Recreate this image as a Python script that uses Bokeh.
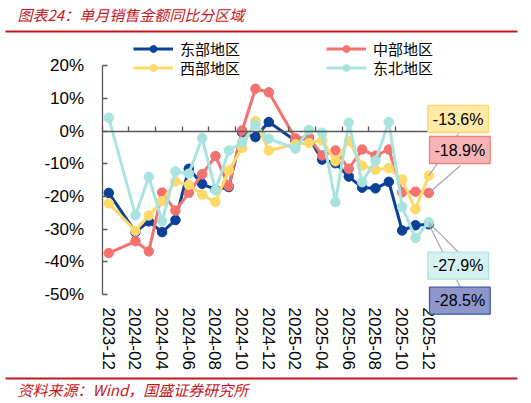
import math
from bokeh.plotting import figure
from bokeh.models import (Range1d, FixedTicker, PrintfTickFormatter, Legend, LegendItem,
                          Label, BoxAnnotation, Arrow, ColumnDataSource, LinearAxis)
from bokeh.embed import file_html
from bokeh.resources import INLINE

# ---------------- data ----------------
months = ["2023-12", "2024-01", "2024-02", "2024-03", "2024-04", "2024-05", "2024-06",
          "2024-07", "2024-08", "2024-09", "2024-10", "2024-11", "2024-12", "2025-01",
          "2025-02", "2025-03", "2025-04", "2025-05", "2025-06", "2025-07", "2025-08",
          "2025-09", "2025-10", "2025-11", "2025-12"]
east = [-18.9, None, -30.9, -27.6, -30.9, -27.2, -11.5, -16.1, -17.9, -17.1, -0.3, -1.8, 2.8,
        None, -2.9, -2.0, -8.7, -9.8, -13.9, -17.3, -17.5, -15.5, -30.4, -28.8, -28.5]
central = [-37.3, None, -33.7, -36.8, -18.8, -24.3, -18.9, -13.2, -7.6, -16.8, 0.2, 13.0, 11.9,
           None, -2.2, -1.8, -7.4, -5.9, -11.5, -5.6, -7.5, -5.6, -18.7, -18.5, -18.9]
west = [-22.1, None, -30.5, -25.8, -21.4, -15.4, -16.4, -19.4, -21.7, -12.0, -5.1, 3.1, -5.9,
        None, -4.0, -3.6, -2.8, -9.2, -3.0, -10.6, -11.8, -11.3, -14.8, -23.9, -13.6]
northeast = [4.1, None, -25.7, -14.0, -27.5, -12.3, -13.0, -2.1, -18.1, -5.9, -3.4, 2.0, -2.3,
             None, -5.3, 0.4, -0.5, -21.7, 2.6, -15.6, -9.0, 2.8, -23.2, -32.7, -27.9]
series_names = ["东部地区", "中部地区", "西部地区", "东北地区"]
y_ticks = [-50, -40, -30, -20, -10, 0, 10, 20]

title_text = "图表24：单月销售金额同比分区域"
source_text = "资料来源：Wind，国盛证券研究所"

# ---------------- styles ----------------
colors = ["#0A4098", "#F4726E", "#FDD96A", "#A8E3E0"]
box_fill = ["#8D97CA", "#F8B4B4", "#FEE9A6", "#D5F2F0"]
box_line = ["#3A5BA5", "#F0807C", "#FDD96A", "#A9E3E0"]
RED = "#C4161C"
AXIS = "#595959"
LATIN = "Liberation Sans"
CJK = "Noto Sans CJK SC"

W, H = 531, 403
# frame covers the whole canvas; axes are pinned inside it with fixed_location
p = figure(width=W, height=H, output_backend="svg", toolbar_location=None,
           x_range=Range1d(-8.12, 31.70), y_range=Range1d(-83.37, 40.02),
           min_border_left=0, min_border_right=0, min_border_top=0, min_border_bottom=0)
p.outline_line_color = None
p.grid.grid_line_color = None
p.background_fill_color = "white"

x_lo, x_hi = -0.5, len(months) - 0.5

# y axis
p.yaxis.fixed_location = x_lo
p.yaxis.ticker = FixedTicker(ticks=y_ticks)
p.yaxis.formatter = PrintfTickFormatter(format="%d%%")
p.yaxis.bounds = (y_ticks[0], y_ticks[-1])
p.yaxis.axis_line_color = AXIS
p.yaxis.axis_line_width = 1.3
p.yaxis.major_tick_line_color = AXIS
p.yaxis.major_tick_line_width = 1.3
p.yaxis.major_tick_in = 5
p.yaxis.major_tick_out = 0
p.yaxis.minor_tick_line_color = None
p.yaxis.major_label_text_font = LATIN
p.yaxis.major_label_text_font_size = "17px"
p.yaxis.major_label_text_color = "black"
p.yaxis.major_label_standoff = 18

# x axis (labels only) pinned at the bottom of the value range
p.xaxis.fixed_location = y_ticks[0]
p.xaxis.ticker = FixedTicker(ticks=list(range(0, len(months), 2)))
p.xaxis.major_label_overrides = {i: months[i] for i in range(0, len(months), 2)}
p.xaxis.major_label_orientation = -math.pi / 2
p.xaxis.axis_line_color = None
p.xaxis.major_tick_line_color = None
p.xaxis.minor_tick_line_color = None
p.xaxis.major_tick_in = 0
p.xaxis.major_tick_out = 0
p.xaxis.major_label_text_font = LATIN
p.xaxis.major_label_text_font_size = "17px"
p.xaxis.major_label_text_color = "black"
p.xaxis.major_label_standoff = 13

# zero line with upward ticks between category pairs
zero_axis = LinearAxis(fixed_location=0, bounds=(x_lo, x_hi),
                       ticker=FixedTicker(ticks=[i - 0.5 for i in range(0, len(months) - 1, 2)]),
                       axis_line_color=AXIS, axis_line_width=1.3,
                       major_tick_line_color=AXIS, major_tick_line_width=1.3,
                       major_tick_in=5, major_tick_out=0, minor_tick_line_color=None,
                       major_label_text_alpha=0, major_label_text_font_size="1px")
p.add_layout(zero_axis, "below")

# series
renderers = []
for vals, col in zip([east, central, west, northeast], colors):
    xs = [i for i, v in enumerate(vals) if v is not None]
    ys = [v for v in vals if v is not None]
    src = ColumnDataSource(dict(x=xs, y=ys))
    lr = p.line("x", "y", source=src, line_color=col, line_width=3)
    sr = p.scatter("x", "y", source=src, size=9.5, fill_color=col, line_color=col)
    renderers.append((lr, sr))

# legends (2 x 2), positions in screen px from bottom-left
leg_pos = [(133, 344), (326, 344), (133, 325), (326, 325)]
for (lr, sr), name, pos in zip(renderers, series_names, leg_pos):
    leg = Legend(items=[LegendItem(label=name, renderers=[lr, sr])], location=pos,
                 orientation="horizontal", glyph_width=40, glyph_height=17, label_height=17,
                 label_standoff=7, padding=0, margin=0, spacing=0,
                 border_line_color=None, background_fill_alpha=0,
                 label_text_font=CJK, label_text_font_size="15px", label_text_color="black")
    p.add_layout(leg)

# leader lines + value boxes for the last month
last = len(months) - 1
last_vals = [east[last], central[last], west[last], northeast[last]]
leader_end = [(460, 116), (460, 238), (458, 270), (458, 151)]
box_tl = [(429, 116.3), (429, 267), (427.3, 298), (427.3, 151.3)]
for v, (ex, ey) in zip(last_vals, leader_end):
    p.add_layout(Arrow(end=None, x_start=last, y_start=v, x_end=ex, y_end=ey,
                       start_units="data", end_units="screen",
                       line_color="#A6A6A6", line_width=1.2))
for idx in [2, 1, 3, 0]:
    bx, by = box_tl[idx]
    p.add_layout(Label(x=bx, y=by, x_units="screen", y_units="screen",
                       text=f"{last_vals[idx]:.1f}%", anchor="top_left", padding=5,
                       text_font=LATIN, text_font_size="16px", text_color="black",
                       background_fill_color=box_fill[idx], border_line_color=box_line[idx],
                       border_line_width=1.3))

# title, source and red rules
p.add_layout(Label(x=17, y=389, x_units="screen", y_units="screen", text=title_text,
                   text_font=CJK, text_font_size="15px", text_font_style="italic",
                   text_color=RED, text_baseline="middle"))
p.add_layout(Label(x=17, y=14, x_units="screen", y_units="screen", text=source_text,
                   text_font=CJK, text_font_size="15px", text_font_style="italic",
                   text_color=RED, text_baseline="middle"))
for yc in [372, 25]:
    p.add_layout(BoxAnnotation(left=5, right=517, bottom=yc - 1, top=yc + 1,
                               left_units="screen", right_units="screen",
                               bottom_units="screen", top_units="screen",
                               fill_color=RED, fill_alpha=1, line_color=None))

open("out.html", "w").write(file_html(p, INLINE))
